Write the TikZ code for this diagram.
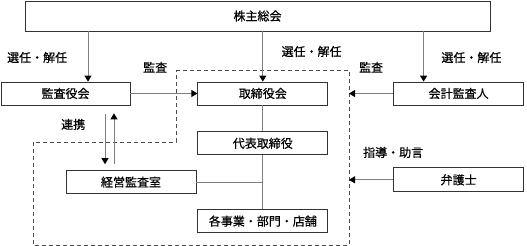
\documentclass[tikz,border=0pt]{standalone}
\usepackage{fontspec}
\setmainfont{Noto Sans CJK JP}[FakeBold=0.5]
\usetikzlibrary{arrows.meta, positioning}

\begin{document}
\begin{tikzpicture}[
    x=1pt, y=-1pt,
    font=\fontsize{12pt}{14pt}\selectfont,
    node distance=26pt and 67pt,
    orgbox/.style={draw=black!80, line width=0.8pt, fill=white, minimum width=130pt, minimum height=23pt, inner sep=0pt},
    conn/.style={draw=black!50, line width=1pt},
    arr/.style={conn, -{Triangle[width=7pt, length=6pt, color=black]}},
    fence/.style={draw=black!70, line width=0.8pt, dash pattern=on 4pt off 3pt}
]
\useasboundingbox (0,0) rectangle (527,246);

% dashed company border
\draw[fence] (176,70) -- (349,70) -- (349,245) -- (33,245) -- (33,142) -- (176,142) -- cycle;
\coordinate (edge) at (349,70);

\node[orgbox, minimum width=465pt, minimum height=30pt] (soukai) at (257.5,16) {株主総会};
\node[orgbox, minimum width=129pt] (kansayaku) at (65.5,93.5) {監査役会};
\node[orgbox, right=of kansayaku] (torishimari) {取締役会};
\node[orgbox, right=65pt of torishimari] (kaikei) {会計監査人};
\node[orgbox, below=of torishimari] (daihyo) {代表取締役};
\node[orgbox, below=54pt of daihyo] (jigyo) {各事業・部門・店舗};
\node[orgbox, below left=15pt and 1pt of daihyo] (keiei) {経営監査室};
\node[orgbox, below=62pt of kaikei, minimum height=24pt] (bengoshi) {弁護士};

\coordinate (kansaIn) at ([xshift=22.5pt]kansayaku.north);
\coordinate (kaikeiIn) at ([xshift=-35pt]kaikei.north);

\draw[arr] (soukai.south -| kansaIn) -- node[pos=0.52, left=17pt] {選任・解任} (kansaIn);
\draw[arr] (soukai.south -| torishimari) -- node[pos=0.4, right=15pt] {選任・解任} (torishimari);
\draw[arr] (soukai.south -| kaikeiIn) -- node[pos=0.52, right=14pt] {選任・解任} (kaikeiIn);

\draw[arr] (kansayaku) -- node[pos=0.37, above=17pt] {監査} (torishimari);
\draw[arr] (kaikei) -- node[midway, above=17pt] {監査} (kaikei -| edge);
\draw[arr] (bengoshi) -- node[pos=0, above=18pt] {指導・助言} (bengoshi -| edge);

\draw[conn] (torishimari) -- (daihyo);
\draw[conn] (daihyo) -- (jigyo);
\draw[conn] (keiei.east) -- (keiei.east -| daihyo.south);

\draw[arr] ([xshift=39.5pt, yshift=-9pt]kansayaku.south) -- node[pos=0.2, left=16pt] {連携} ([xshift=-26pt, yshift=6pt]keiei.north);
\draw[arr] ([xshift=-17pt, yshift=6pt]keiei.north) -- ([xshift=48.5pt, yshift=-8pt]kansayaku.south);
\end{tikzpicture}
\end{document}
